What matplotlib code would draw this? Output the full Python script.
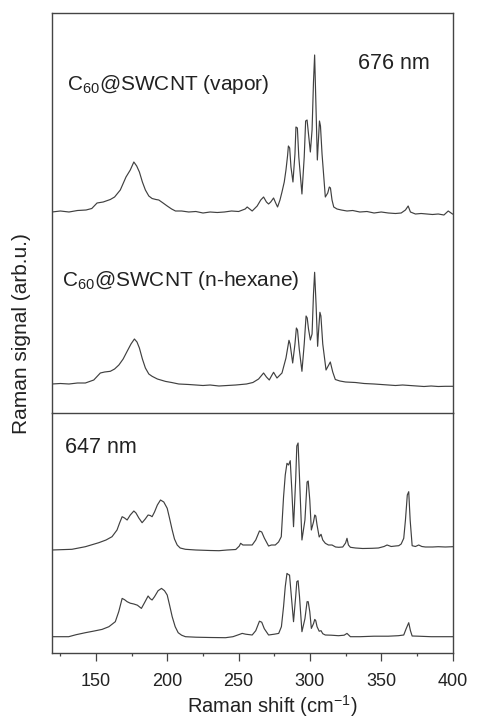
import matplotlib
matplotlib.use("Agg")
import matplotlib.pyplot as plt
from matplotlib.ticker import MultipleLocator

plt.rcParams['font.family'] = ['Liberation Sans', 'DejaVu Sans']
plt.rcParams['mathtext.fontset'] = 'custom'
plt.rcParams['mathtext.rm'] = 'Liberation Sans'

# ---------------- data (Raman shift in cm^-1, signal in arb. u.) ----------------
vapor_x = [119, 125, 131, 137, 143, 147, 150.7, 155, 160, 163, 167, 171, 174, 176.5, 178.5,
           180.4, 182.5, 184.6, 187, 189.3, 192, 194, 197, 199.9, 203, 205.7, 210, 215, 220,
           225, 230, 235, 240, 245, 250, 254.6, 256, 259.5, 263, 265.5, 267.5, 269.5, 271,
           272.5, 274.5, 276, 277.3, 279, 280.4, 282, 283.2, 284.3, 284.9, 285.8, 286.7, 288.1,
           289.5, 290.2, 291.2, 292.2, 294.4, 296, 297.0, 298.0, 299, 300.3, 301.5, 302.5, 303.3,
           304.2, 305.2, 306.2, 306.7, 307.4, 308.5, 310.8, 312.5, 313.6, 314.4, 315.5, 316.7,
           319, 322, 326, 330, 335, 340, 345, 350, 355, 360, 364, 367, 368.9, 370.5, 374, 378,
           382, 386, 390, 394, 397, 400]
vapor_y = [0, 1, 0, 1.5, 2, 3.5, 9, 10, 12.5, 15, 22, 35, 42, 50, 46,
           40, 30, 22, 16, 13.5, 12.5, 12, 9, 6, 3, 1, 1, 0, 0.5,
           -1, 0, -0.5, 0, 1, 0.5, 3, 5, 1, 6, 12, 15, 10, 8,
           10, 14, 9, 5, 12, 20, 30, 42, 56, 66, 64, 45, 30,
           58, 85, 84, 55, 18, 55, 91, 92, 78, 60, 82, 130, 157,
           108, 52, 78, 91, 86, 58, 15, 19, 25, 24, 12, 5,
           3, 2, 1, 1.5, 0, 0.5, -1, 0, -1, -1.5, -1, 2, 6, 0, -2, -1.5,
           -2, -2.5, -2, -3, 1, -2]

hexane_x = [119, 125, 131, 137, 142.5, 148.4, 153, 156, 160, 163, 166, 169, 171.8, 174.5,
            176.9, 178.7, 180.4, 182.5, 184.6, 187, 189.3, 193, 198.7, 203, 208, 215, 220,
            225, 230, 236.2, 242, 248, 255.5, 260, 264, 267.5, 269.5, 271.5, 273, 274.5,
            276.9, 280.4, 283.2, 284.5, 285.3, 286.1, 287.9, 289.5, 290.5, 291.3, 292.5, 294.4,
            296, 297.3, 298.1, 299, 300.3, 301.5, 302.5, 303.3, 304.3, 305.4, 306.3, 307.0,
            307.7, 309, 311.3, 312.8, 314.3, 316, 317.8, 321, 325, 331.9, 338, 345, 350, 355,
            360, 365, 370, 375, 380, 385, 390, 395, 400]
hexane_y = [0, 0.5, 0, 1, 1, 4, 11, 12, 12.7, 15, 19, 25, 32.7, 40,
            45, 42, 36, 25, 16, 10, 7.7, 5, 2.6, 1.5, 0, -0.5, -1,
            -1.5, -1, -2, -1.5, -1, 0, 1.5, 5, 11, 7, 4, 8, 11.7,
            6, 11, 26, 37, 43.7, 40, 21, 40, 56, 54, 35, 12.7,
            40, 68, 66, 55, 44, 50, 90, 111.7, 80, 37.7, 58, 71.7,
            68, 40, 14, 18, 22, 12, 4.5, 3, 2, 1.5, 0.5, 0, -0.5, -1,
            -1.5, -1, -1.5, -2, -2.5, -2, -2.5, -2.3, -2.3]

s647a_x = [119, 125, 133.1, 142.5, 151.9, 157, 161.2, 164.7, 166.5, 168.3, 170, 171.8, 174,
           176.5, 178, 180, 182.3, 184.5, 186.5, 188, 189.3, 191, 193, 195.2, 197.5, 199.9,
           201.5, 203.4, 205, 206.9, 209, 212.7, 220, 230, 236.2, 242, 248, 250.5, 251.4, 253,
           256, 259.5, 262, 264.6, 266.2, 268, 271, 273, 275.7, 278, 279.9, 281.5, 282.7, 283.9,
           285, 286.2, 287.3, 288.5, 290, 290.8, 291.7, 292.7, 294.4, 296.5, 298.0, 298.8,
           299.9, 301, 302.5, 303.4, 304.1, 305.0, 306.5, 307.8, 309, 310.8, 313, 315.5, 318,
           320.2, 323, 325, 326, 327, 328.4, 332, 337, 343.6, 348, 352, 354.1, 357, 360, 362.3,
           364, 365.8, 367, 368.3, 369.3, 370.3, 371.7, 374, 376.3, 378.5, 381, 386, 390, 395,
           400]
s647a_y = [0, 0.3, 0.7, 3.3, 7.3, 10, 13.3, 20, 27, 33.3, 32, 30, 35,
           39, 37, 32, 27.3, 31, 35, 34.5, 33.3, 38, 45, 50, 48, 41.7,
           32, 20, 11, 5, 2, 0.7, 0, -0.5, -0.7, 0, 0.5, 4, 6.7, 5,
           5, 5, 10, 19, 18, 12, 4, 5, 5, 8, 13.3, 53, 75, 86.7,
           85, 89.3, 60, 23.3, 70, 104, 107, 72, 10, 30, 68, 69,
           50, 20, 28, 35, 34, 25, 13, 15.7, 10, 6.7, 5, 5, 3,
           2.7, 3, 7, 11.7, 5, 2.7, 2, 1.5, 1.7, 2, 3.5, 5, 3.5, 4, 4.3,
           6, 11.7, 30, 55, 58.3, 30, 4.3, 3.5, 5, 3.5, 3, 3, 3.3, 3,
           3.3]

s647b_x = [119, 125, 130.8, 136, 142.5, 148, 154.2, 159, 163.5, 165.9, 168.3, 170, 171.8,
           174, 176.5, 179, 181.8, 184, 186.5, 188, 189.3, 191, 193.5, 195.9, 198, 199.9,
           201.5, 203.4, 205.5, 207.6, 210, 212.7, 220, 230, 240.8, 246, 250, 252.5, 255,
           259.5, 262, 264.6, 266.2, 268, 271, 275, 278.1, 280, 281.5, 282.7, 283.9, 285,
           285.7, 287, 288.5, 290, 290.8, 291.7, 292.7, 294.4, 296.5, 298.0, 298.8, 299.9,
           301, 302.5, 303.4, 304.1, 305.0, 306.5, 307.8, 309, 310.8, 315, 320, 324, 326,
           328.4, 335, 345, 355, 362, 365.8, 367.5, 369.3, 370.5, 371.7, 376, 385, 395, 400]
s647b_y = [0, 0, 0, 2, 4, 5.5, 7.3, 10, 15, 25, 38.3, 37, 35,
           33.5, 32.7, 31.5, 28.3, 34, 40.7, 38, 36.7, 40, 46, 48.3, 46, 41.7,
           32, 20, 10, 4, 1.5, 0, -0.5, -0.8, -1, 0, 2, 3.3, 2.5,
           1.7, 6, 15.5, 14.5, 8, 1.7, 2.5, 3.3, 10, 30, 50, 63.3, 62,
           61.7, 40, 15, 40, 55, 56, 40, 5, 18, 35, 35, 25,
           8.3, 13, 17.3, 16, 10, 5.5, 6, 3, 1.7, 1.5, 1, 1.5, 3.3,
           0, 0, 0.5, 0.5, 1, 1.7, 8, 14, 6, 0.7, 0.5, 0, 0, 0]

# stacking offsets (arb. u.)
top_offsets = {'vapor': 201, 'hexane': 29}
bot_offsets = {'a': 102.5, 'b': 15.8}

xticks = [150, 200, 250, 300, 350, 400]

# ---------------- figure ----------------
W, H = 479, 719
fig = plt.figure(figsize=(W / 100, H / 100), dpi=100)

L, R = 52 / W, 452.5 / W
y_top, y_div, y_bot = 13, 413, 652.5
ax_top = fig.add_axes([L, 1 - y_div / H, R - L, (y_div - y_top) / H])
ax_bot = fig.add_axes([L, 1 - y_bot / H, R - L, (y_bot - y_div) / H])

lc = '#404040'
lw = 0.85
ax_top.plot(vapor_x, [v + top_offsets['vapor'] for v in vapor_y], color=lc, lw=lw)
ax_top.plot(hexane_x, [v + top_offsets['hexane'] for v in hexane_y], color=lc, lw=lw)
ax_bot.plot(s647a_x, [v + bot_offsets['a'] for v in s647a_y], color=lc, lw=lw)
ax_bot.plot(s647b_x, [v + bot_offsets['b'] for v in s647b_y], color=lc, lw=lw)

ax_top.set_ylim(0, y_div - y_top)
ax_bot.set_ylim(0, y_bot - y_div)
for ax in (ax_top, ax_bot):
    ax.set_xlim(119.1, 400)
    ax.set_yticks([])
    ax.patch.set_alpha(0)
    for s in ax.spines.values():
        s.set_color('#444444')
        s.set_linewidth(1.0)

ax_bot.spines['top'].set_visible(False)
ax_top.set_zorder(2)
ax_top.tick_params(axis='x', which='both', bottom=False, labelbottom=False)
ax_bot.set_xticks(xticks)
ax_bot.xaxis.set_minor_locator(MultipleLocator(25))
ax_bot.tick_params(axis='x', which='major', direction='out', length=6, width=0.9,
                   color='#444444', labelsize=13, pad=9, labelcolor='#222222')
ax_bot.tick_params(axis='x', which='minor', direction='out', length=2.5, width=0.9,
                   color='#444444')

def px(x, y):
    return x / W, 1 - y / H

tc = '#222222'
fig.text(*px(67, 90), r'C$_{\mathregular{60}}$@SWCNT (vapor)', fontsize=15, color=tc,
         ha='left', va='baseline')
fig.text(*px(62, 286), r'C$_{\mathregular{60}}$@SWCNT (n-hexane)', fontsize=15, color=tc,
         ha='left', va='baseline')
fig.text(*px(358, 69), '676 nm', fontsize=15.5, color=tc, ha='left', va='baseline')
fig.text(*px(65, 452.7), '647 nm', fontsize=15.5, color=tc, ha='left', va='baseline')

fig.text(*px(272, 713), r'Raman shift (cm$^{\mathregular{-1}}$)', fontsize=14.5, color=tc,
         ha='center', va='baseline')
fig.text(*px(22, 334), 'Raman signal (arb.u.)', fontsize=15, color=tc,
         ha='center', va='center', rotation=90)

fig.savefig('out.png', dpi=100)
